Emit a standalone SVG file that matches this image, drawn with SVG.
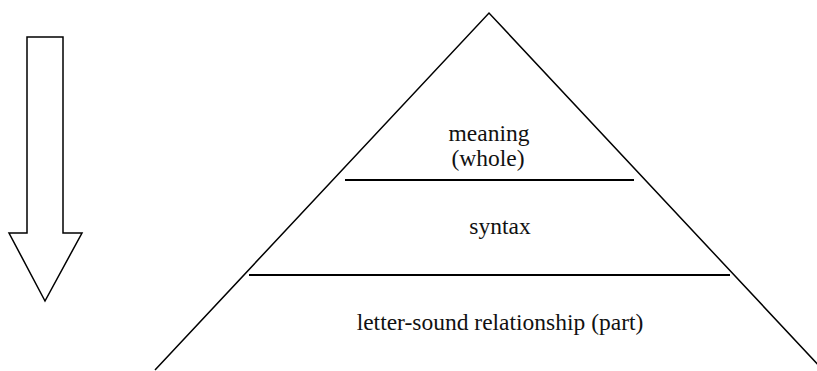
<svg xmlns="http://www.w3.org/2000/svg" width="817" height="371" viewBox="0 0 817 371">
<style>
.s{fill:none;stroke:#000;stroke-width:1.5}
.h{fill:none;stroke:#000;stroke-width:2}
.t{font-family:"Liberation Serif","Times New Roman",serif;font-size:23.5px;fill:#111;text-anchor:middle}
</style>
<rect width="817" height="371" fill="#fff"/>
<g id="arrow">
<polygon class="s" fill="#fff" points="27,37 63,37 63,233 82,233 45,301 9,233 27,233"/>
</g>
<g id="pyramid">
<polyline class="s" points="155,370 489,13 823,370"/>
</g>
<g id="connectors">
<line class="h" x1="345" y1="180" x2="634" y2="180"/>
<line class="h" x1="249" y1="275" x2="730" y2="275"/>
</g>
<g id="meaning">
<text class="t" x="489" y="141">meaning</text>
<text class="t" x="488" y="166">(whole)</text>
</g>
<g id="syntax">
<text class="t" x="500" y="234">syntax</text>
</g>
<g id="letter-sound">
<text class="t" x="500" y="330">letter-sound relationship (part)</text>
</g>
</svg>
